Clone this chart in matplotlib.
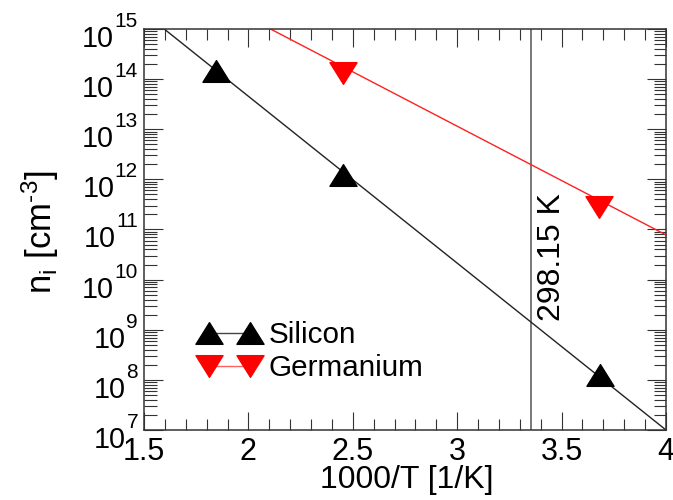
import matplotlib
matplotlib.use("Agg")
import matplotlib.pyplot as plt
import numpy as np
from matplotlib.path import Path
from matplotlib.ticker import LogLocator, MultipleLocator, NullFormatter
from matplotlib.transforms import blended_transform_factory, offset_copy

plt.rcParams['font.family'] = ['Liberation Sans', 'DejaVu Sans']
plt.rcParams['mathtext.fontset'] = 'custom'
plt.rcParams['mathtext.rm'] = 'Liberation Sans'
plt.rcParams['mathtext.it'] = 'Liberation Sans:italic'
plt.rcParams['mathtext.bf'] = 'Liberation Sans:bold'

# ---- data ----
si_x = [1.845, 2.455, 3.682]
si_y = [1.45e14, 1.22e12, 1.24e8]
ge_x = [2.455, 3.680]
ge_y = [1.32e14, 2.8e11]
si_fit_x = [1.5, 4.0]
si_fit_y = [2.1e15, 1.0e7]
ge_fit_x = [1.5, 4.0]
ge_fit_y = [2.06e16, 7.8e10]
room_T = 298.15
labels = ["Silicon", "Germanium"]
x_ticks = [1.5, 2, 2.5, 3, 3.5, 4]
x_ticklabels = ['1.5', '2', '2.5', '3', '3.5', '4']
y_exponents = [7, 8, 9, 10, 11, 12, 13, 14, 15]

up_tri = Path([(0, 0.8), (-1, -0.8), (1, -0.8), (0, 0.8)],
              [Path.MOVETO, Path.LINETO, Path.LINETO, Path.CLOSEPOLY])
dn_tri = Path([(0, -0.8), (-1, 0.8), (1, 0.8), (0, -0.8)],
              [Path.MOVETO, Path.LINETO, Path.LINETO, Path.CLOSEPOLY])

fig = plt.figure(figsize=(6.73, 5.0), dpi=100)
ax = fig.add_axes([144/673, 1-430/500, 522/673, 401/500])

ax.plot(si_fit_x, si_fit_y, color='#222222', lw=1.0, zorder=2)
ax.plot(ge_fit_x, ge_fit_y, color='#ff2020', lw=1.0, zorder=2)
ax.plot(si_x, si_y, ls='none', marker=up_tri, ms=19.5, color='black', mec='black', zorder=3)
ax.plot(ge_x, ge_y, ls='none', marker=dn_tri, ms=19.5, color='red', mec='red', zorder=3)

ax.axvline(1000.0/room_T, color='#555555', lw=1.1, zorder=1)
ax.text(3.455, 10**10.45, "%.2f K" % room_T, rotation=90, ha='center', va='center',
        fontsize=23)

# legend handles
h1, = ax.plot([], [], color='#444444', lw=1.0, marker=up_tri, ms=19.5,
              mfc='black', mec='black')
h2, = ax.plot([], [], color='#ff6060', lw=1.0, marker=dn_tri, ms=19.5,
              mfc='red', mec='red')
ax.legend([h1, h2], labels, numpoints=2, frameon=False, fontsize=21.3,
          loc='upper left', bbox_to_anchor=(200/673, 1-321/500),
          bbox_transform=fig.transFigure, borderpad=0, borderaxespad=0,
          handlelength=2.0, handletextpad=0.33, labelspacing=0.17)

ax.set_yscale('log')
ax.set_xlim(1.5, 4.0)
ax.set_ylim(1e7, 1e15)
ax.set_xticks(x_ticks)
ax.set_xticklabels(x_ticklabels)
ax.xaxis.set_minor_locator(MultipleLocator(0.1))
ax.set_yticks([10.0**e for e in y_exponents])
ax.yaxis.set_minor_locator(LogLocator(base=10, subs=np.arange(2, 10), numticks=20))
ax.yaxis.set_minor_formatter(NullFormatter())
ax.set_yticklabels([])

ax.tick_params(axis='both', which='both', direction='in', top=True, right=True,
               color='#333333', width=0.8)
ax.tick_params(axis='x', which='major', length=12.7, labelsize=22, pad=5)
ax.tick_params(axis='x', which='minor', length=8)
ax.tick_params(axis='y', which='major', length=14)
ax.tick_params(axis='y', which='minor', length=9)
for s in ax.spines.values():
    s.set_color('#333333')
    s.set_linewidth(1.1)

# manual y tick labels: "10" with raised exponent, right-aligned
trans = blended_transform_factory(ax.transAxes, ax.transData)
renderer = fig.canvas.get_renderer()
for e in y_exponents:
    t_exp = ax.text(0, 10.0**e, str(e), fontsize=15, ha='right', va='baseline',
                    transform=offset_copy(trans, fig=fig, x=-6, y=2, units='dots'),
                    clip_on=False)
    w = t_exp.get_window_extent(renderer).width
    ax.text(0, 10.0**e, "10", fontsize=20.7, ha='right', va='baseline',
            transform=offset_copy(trans, fig=fig, x=-6 - w - 0.5, y=-18, units='dots'),
            clip_on=False)

fig.text(406.5/673, 1-480/500, "1000/T [1/K]", fontsize=23, ha='center', va='center')
fig.text(40/673, 1-232/500, r"n$_\mathrm{i}$ [cm$^{\text{-3}}$]", fontsize=25,
         rotation=90, ha='center', va='center')

fig.savefig("out.png", dpi=100)
